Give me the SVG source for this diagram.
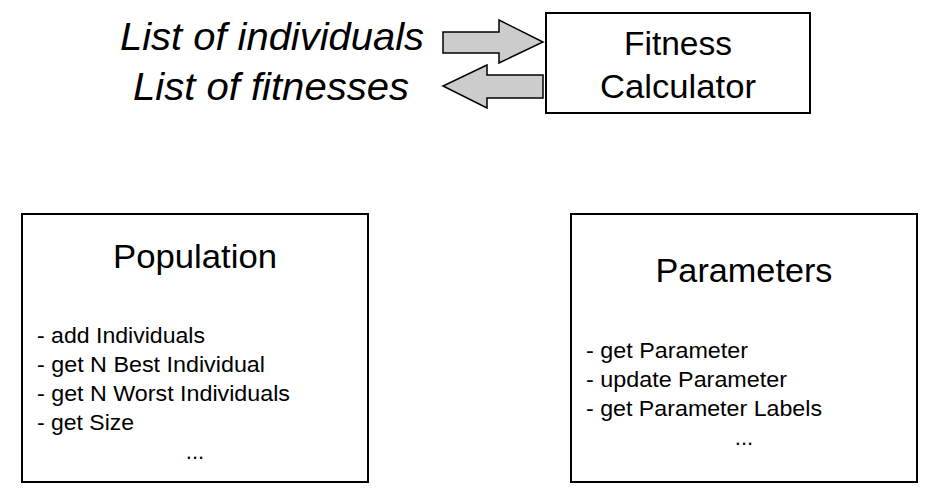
<svg xmlns="http://www.w3.org/2000/svg" width="932" height="500" viewBox="0 0 932 500">
<style>
  .box { fill: #ffffff; stroke: #000000; stroke-width: 2; }
  .arrow { fill: #cccccc; stroke: #000000; stroke-width: 1.5; stroke-linejoin: miter; }
  .title { font-family: "Liberation Sans", Arial, sans-serif; font-size: 34px; fill: #000; text-anchor: middle; }
  .item { font-family: "Liberation Sans", Arial, sans-serif; font-size: 22px; fill: #000; }
  .ital { font-family: "Liberation Sans", Arial, sans-serif; font-size: 39px; font-style: italic; fill: #000; }
</style>
<rect width="932" height="500" fill="#ffffff"/>
<g id="connectors">
  <polygon class="arrow" points="443,32 499,32 499,20 543,42 499,63 499,53 443,53"/>
  <polygon class="arrow" points="543,75 487,75 487,65 443,86 487,108 487,98 543,98"/>
</g>
<g id="labels">
  <text class="ital" x="120" y="50" textLength="304" lengthAdjust="spacingAndGlyphs">List of individuals</text>
  <text class="ital" x="133" y="100" textLength="276" lengthAdjust="spacingAndGlyphs">List of fitnesses</text>
</g>
<g id="fitness-calculator">
  <rect class="box" x="546" y="13" width="264" height="100"/>
  <text class="title" x="678" y="55" textLength="108" lengthAdjust="spacingAndGlyphs">Fitness</text>
  <text class="title" x="678" y="98" textLength="156" lengthAdjust="spacingAndGlyphs">Calculator</text>
</g>
<g id="population">
  <rect class="box" x="22" y="214" width="346" height="268"/>
  <text class="title" x="195" y="268" textLength="164" lengthAdjust="spacingAndGlyphs">Population</text>
  <text class="item" x="37" y="343" textLength="168" lengthAdjust="spacingAndGlyphs">- add Individuals</text>
  <text class="item" x="37" y="372" textLength="228" lengthAdjust="spacingAndGlyphs">- get N Best Individual</text>
  <text class="item" x="37" y="401" textLength="253" lengthAdjust="spacingAndGlyphs">- get N Worst Individuals</text>
  <text class="item" x="37" y="430" textLength="97" lengthAdjust="spacingAndGlyphs">- get Size</text>
  <text class="item" x="195" y="459" text-anchor="middle">...</text>
</g>
<g id="parameters">
  <rect class="box" x="571" y="214" width="346" height="268"/>
  <text class="title" x="744" y="282" textLength="177" lengthAdjust="spacingAndGlyphs">Parameters</text>
  <text class="item" x="586" y="358" textLength="162" lengthAdjust="spacingAndGlyphs">- get Parameter</text>
  <text class="item" x="586" y="387" textLength="201" lengthAdjust="spacingAndGlyphs">- update Parameter</text>
  <text class="item" x="586" y="416" textLength="236" lengthAdjust="spacingAndGlyphs">- get Parameter Labels</text>
  <text class="item" x="744" y="445" text-anchor="middle">...</text>
</g>
</svg>
